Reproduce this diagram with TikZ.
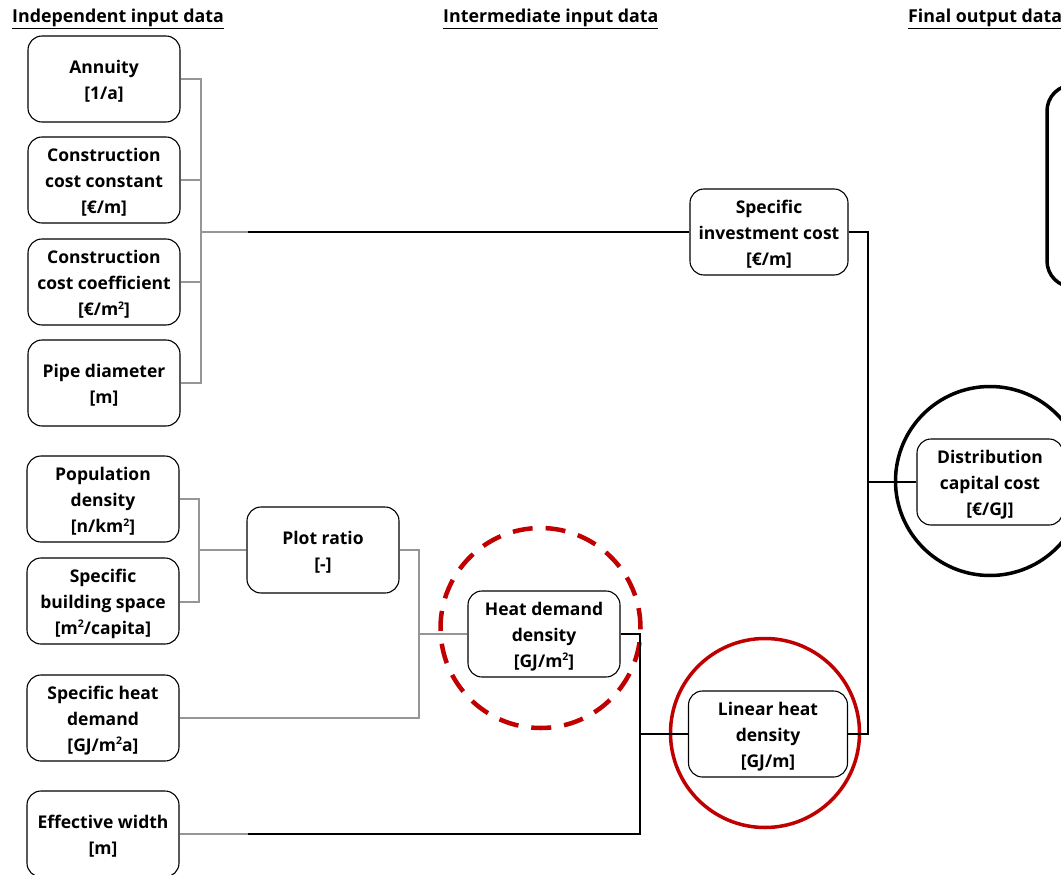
\documentclass[tikz,border=0pt]{standalone}
\usepackage{fontspec}
\setmainfont{Open Sans}
\usetikzlibrary{calc}
\definecolor{dred}{RGB}{192,0,0}
\definecolor{lgray}{RGB}{150,150,150}
\newcommand\sqr{\raisebox{6.5pt}{\fontsize{10.5}{10.5}\selectfont 2}}
\tikzset{
  box/.style={draw=black, line width=1.1pt, rounded corners=14pt, minimum width=152pt, minimum height=86pt, inner sep=0pt},
  txt/.style={align=center, inner sep=0pt, font=\fontsize{17.5}{26}\selectfont\bfseries},
  hdr/.style={font=\fontsize{17.8}{20}\selectfont\bfseries, anchor=base west, inner sep=0pt},
  gline/.style={draw=lgray, line width=1.6pt},
  bline/.style={draw=black, line width=1.2pt},
}
% \bx[options]{name}{x,y}{text}
\newcommand\bx[4][]{%
  \node[box,#1] (#2) at (#3) {};
  \node[txt] (#2-t) at ([yshift=-2.5pt]#2.center) {#4};}
\begin{document}
\begin{tikzpicture}[x=1pt,y=-1pt]
\useasboundingbox (0,0) rectangle (1061,875);
\clip (0,0) rectangle (1061,875);
% headers
\node[hdr] (h1) at (12,23) {\underline{Independent input data}};
\node[hdr] (h2) at (443,23) {\underline{Intermediate input data}};
\node[hdr] (h3) at (908,23) {\underline{Final output data}};
% left boxes
\bx{ann}{104,79}{Annuity\\{}[1/a]}
\bx{ccc}{104,180}{Construction\\cost constant\\{}[€/m]}
\bx{cco}{104,282}{Construction\\cost coefficient\\{}[€/m\sqr]}
\bx{pip}{104,383}{Pipe diameter\\{}[m]}
\bx{pop}{103,499}{Population\\density\\{}[n/km\sqr]}
\bx{sbs}{103,601}{Specific\\building space\\{}[m\sqr/capita]}
\bx{shd}{103,718}{Specific heat\\demand\\{}[GJ/m\sqr a]}
\bx{eff}{103,834}{Effective width\\{}[m]}
% intermediate
\bx{plot}{323,550}{Plot ratio\\{}[-]}
\bx{hdd}{544,634}{Heat demand\\density\\{}[GJ/m\sqr]}
\bx[minimum width=158pt]{sic}{769,232}{Specific\\investment cost\\{}[€/m]}
\bx[minimum width=159pt]{lhd}{768,734}{Linear heat\\density\\{}[GJ/m]}
% final
\bx[minimum width=146pt]{dcc}{990,482}{Distribution\\capital cost\\{}[€/GJ]}
\node[draw=black, line width=3.5pt, rounded corners=26pt, minimum width=160pt, minimum height=202pt] (big) at (1127,186) {};
% circles
\node[circle, draw=black, line width=3.5pt, minimum size=189pt] (c1) at (990,481) {};
\node[circle, draw=dred, line width=3.5pt, minimum size=189pt] (c2) at (765,733) {};
\node[circle, draw=dred, line width=4.5pt, dash pattern=on 20pt off 13pt, minimum size=200pt] (c3) at (540.5,628) {};
% coordinates for buses
\coordinate (b1) at (201,232);
\coordinate (b2) at (199,550);
\coordinate (b3) at (419,634);
\coordinate (b4) at (640,734);
\coordinate (b5) at (868,482);
% connectors left group
\draw[gline] (ann.east) -| (b1);
\draw[gline] (pip.east) -| (b1);
\draw[gline] (ccc.east) -- (ccc.east -| b1);
\draw[gline] (cco.east) -- (cco.east -| b1);
\draw[gline] (b1) -- ++(47,0) coordinate (b1e);
\draw[bline] (b1e) -- (sic.west);
% plot ratio group
\draw[gline] (pop.east |- 0,499) -| (b2);
\draw[gline] (sbs.east |- 0,602) -| (b2);
\draw[gline] (b2) -- (plot.west);
\draw[gline] (plot.east) -| (b3);
\draw[gline] (shd.east) -| (b3);
\draw[gline] (b3) -- (hdd.west);
% linear heat density group
\draw[bline] (hdd.east) -| (b4);
\draw[gline] (eff.east) -- ++(68,0) coordinate (e1);
\draw[bline] (e1) -| (b4);
\draw[bline] (b4) -- (lhd.west);
% final
\draw[bline] (sic.east) -| (b5);
\draw[bline] (lhd.east) -| (b5);
\draw[bline] (b5) -- (dcc.west);
\end{tikzpicture}
\end{document}
